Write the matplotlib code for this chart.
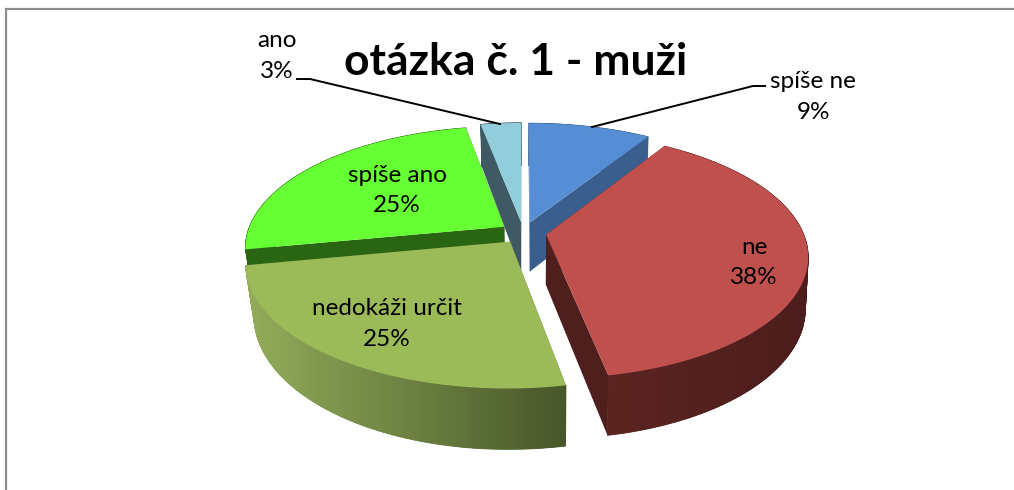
import numpy as np
import matplotlib
matplotlib.use('Agg')
import matplotlib.pyplot as plt
from matplotlib.collections import PolyCollection
from matplotlib.patches import Polygon
from matplotlib.colors import to_rgb

# data, clockwise from 12 o'clock
categories = ['spíše ne', 'ne', 'nedokáži určit', 'spíše ano', 'ano']
values = [9, 38, 25, 25, 3]

top_colors = ['#558ed5', '#c0504d', '#9bbb59', '#66ff33', '#92cddc']
cut_colors = ['#3a5f8f', '#4f1f1e', '#5a6e34', '#2a6611', '#3f5a63']
# outer wall gradient, left colour then right colour on the page
wall_colors = [('#3a5f8f', '#3a5f8f'), ('#5c2522', '#4c1d1c'), ('#93ad5a', '#47572a'),
               ('#2a6611', '#2a6611'), ('#3f5a63', '#3f5a63')]

# 3d look: pixels on the page
cx, cy = 523.3, 232.7
R, Ry = 257, 119
persp = 1 / 6
depth = 50
explode = 0.09
shrink_left, shrink_right = 0.97, 0.99

plt.rcParams['font.family'] = ['Lato', 'DejaVu Sans']
fig = plt.figure(figsize=(10.14, 4.9), dpi=100)
ax = fig.add_axes([0, 0, 1, 1])


def project(px, pv, low=False):
    s = 1 / (1 - persp * pv)
    x = R * px * s
    y = cy + Ry * pv * s
    if low:
        return cx + x * np.where(x < 0, shrink_left, shrink_right), y + depth * s
    return cx + x, y


def draw_slice(i, start, end):
    mid = (start + end) / 2
    ox, ov = explode * np.sin(mid), -explode * np.cos(mid)
    th = np.linspace(start, end, 120)
    rim_x, rim_v = ox + np.sin(th), ov - np.cos(th)

    top_x, top_y = project(rim_x, rim_v)
    low_x, low_y = project(rim_x, rim_v, low=True)
    ax_, ay_ = project(ox, ov)
    bx_, by_ = project(ox, ov, low=True)
    z = 2 + order[i]

    # two cut faces first, the top hides whatever should not show
    ax.fill([ax_, top_x[0], low_x[0], bx_], [ay_, top_y[0], low_y[0], by_],
            color=cut_colors[i], lw=0, zorder=z)
    ax.fill([ax_, top_x[-1], low_x[-1], bx_], [ay_, top_y[-1], low_y[-1], by_],
            color=cut_colors[i], lw=0, zorder=z)

    # outer wall: strips underneath so the fold at the pie's edge is filled,
    # smooth horizontal gradient on top
    x0, x1 = min(top_x.min(), low_x.min()), max(top_x.max(), low_x.max())
    c0, c1 = np.array(to_rgb(wall_colors[i][0])), np.array(to_rgb(wall_colors[i][1]))
    quads, cols = [], []
    for j in range(len(th) - 1):
        quads.append([(top_x[j], top_y[j]), (top_x[j + 1], top_y[j + 1]),
                      (low_x[j + 1], low_y[j + 1]), (low_x[j], low_y[j])])
        cols.append(c0 + (c1 - c0) * (top_x[j] - x0) / (x1 - x0))
    ax.add_collection(PolyCollection(quads, facecolors=cols, edgecolors=cols, linewidths=0.6, zorder=z))

    outline = np.c_[np.r_[top_x, low_x[::-1]], np.r_[top_y, low_y[::-1]]]
    grad = np.linspace(c0, c1, 256)[np.newaxis, :, :]
    im = ax.imshow(grad, extent=(x0, x1, outline[:, 1].max(), outline[:, 1].min()),
                   aspect='auto', zorder=z, interpolation='bilinear')
    clip = Polygon(outline, closed=True, transform=ax.transData, fc='none', ec='none')
    ax.add_patch(clip)
    im.set_clip_path(clip)

    ax.fill(np.r_[ax_, top_x], np.r_[ay_, top_y], color=top_colors[i], lw=0, zorder=z + 0.5)


edges = np.cumsum([0] + values) / sum(values) * 2 * np.pi
mids = (edges[:-1] + edges[1:]) / 2
# paint from the back of the pie to the front
order = np.argsort(np.argsort(-np.cos(mids))).tolist()
for i in range(len(values)):
    draw_slice(i, edges[i], edges[i + 1])

# grey frame, only top and left
ax.plot([6, 6, 1014], [490, 9.5, 9.5], color='#8c8c8c', lw=1.6, zorder=1, solid_joinstyle='miter')

ax.text(515.5, 62, 'otázka č. 1 - muži', fontsize=32, fontweight='bold', ha='center', va='center',
        color='black', zorder=20)

label_x = [813, 754, 387, 397, 277]
label_y = [97, 262.5, 324, 190.5, 56]
for i, name in enumerate(categories):
    ax.text(label_x[i], label_y[i], f'{name}\n{values[i]}%', fontsize=17.5, ha='center', va='center',
            linespacing=1.55, color='black', zorder=20)

# leader lines
ax.plot([765, 753, 592], [86, 86, 127], color='black', lw=1.4, zorder=19)
ax.plot([297, 310, 500], [79, 79, 124], color='black', lw=1.4, zorder=19)

ax.set_xlim(0, 1014)
ax.set_ylim(490, 0)
ax.axis('off')

fig.savefig('out.png', dpi=100, facecolor='white')
